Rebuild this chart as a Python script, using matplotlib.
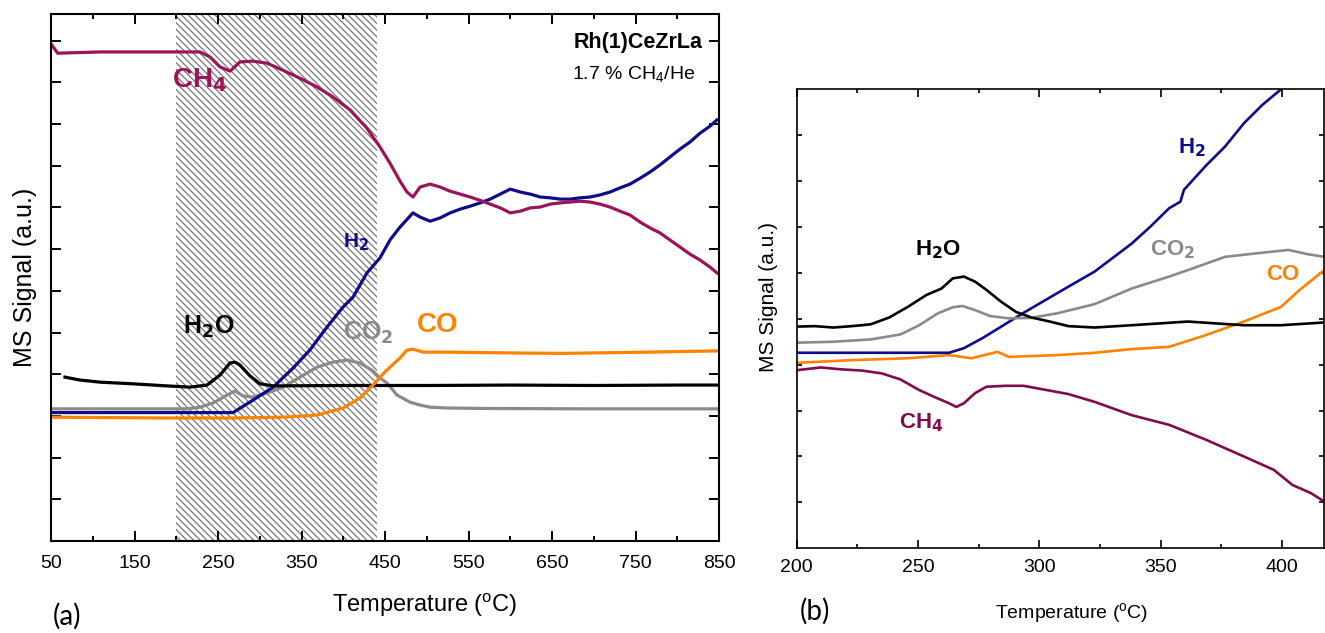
import matplotlib
matplotlib.use('Agg')
import matplotlib.pyplot as plt

plt.rcParams['font.family'] = ['Liberation Sans', 'DejaVu Sans']
plt.rcParams['mathtext.fontset'] = 'custom'
plt.rcParams['mathtext.rm'] = 'Liberation Sans'
plt.rcParams['mathtext.bf'] = 'Liberation Sans Narrow:bold'
plt.rcParams['hatch.linewidth'] = 0.9

# ---- panel (a): full ramp 50-850 C ----
t_ch4_a = [50.8, 58, 108.7, 168.6, 228.4, 240.4, 252.4, 264.4, 276.3, 291.9, 308.7, 327.8,
           348.2, 368.6, 387.7, 408.1, 428.4, 444, 456, 468, 476.3, 483.5, 492, 504, 516,
           528, 540, 552, 564, 576, 588, 600, 612, 624, 636, 648, 660, 672, 683.5, 695.5,
           707.5, 719.5, 731.5, 743.4, 755.4, 767.4, 779.3, 791.3, 803.3, 815.3, 827.2,
           839.2, 847.6]
ch4_a = [11.9, 11.70, 11.73, 11.73, 11.73, 11.61, 11.37, 11.27, 11.49, 11.51, 11.46, 11.29,
         11.10, 10.89, 10.65, 10.34, 9.90, 9.45, 9.06, 8.63, 8.37, 8.25, 8.49, 8.56, 8.49,
         8.39, 8.32, 8.25, 8.17, 8.08, 7.99, 7.87, 7.91, 7.99, 8.01, 8.08, 8.11, 8.13, 8.15,
         8.13, 8.08, 8.01, 7.91, 7.82, 7.65, 7.51, 7.39, 7.22, 7.05, 6.88, 6.74, 6.57, 6.43]

t_h2_a = [50, 268, 292, 316, 340, 360, 380.5, 399.7, 411.7, 428.4, 444, 456, 468, 483.5,
          492, 504, 516, 528, 540, 552, 564, 576, 588, 600, 612, 624, 636, 648, 660, 672,
          683.5, 695.5, 707.5, 719.5, 731.5, 743.4, 755.4, 767.4, 779.3, 791.3, 803.3,
          815.3, 827.2, 839.2, 847.6]
h2_a = [3.08, 3.08, 3.38, 3.69, 4.15, 4.58, 5.13, 5.61, 5.85, 6.43, 6.79, 7.22, 7.53, 7.87,
        7.77, 7.67, 7.75, 7.87, 7.96, 8.03, 8.11, 8.20, 8.32, 8.44, 8.37, 8.32, 8.25, 8.23,
        8.20, 8.20, 8.23, 8.25, 8.30, 8.37, 8.47, 8.56, 8.70, 8.85, 9.02, 9.21, 9.40, 9.57,
        9.78, 9.95, 10.10]

t_co2_a = [50, 213, 228.4, 244, 260.8, 270.4, 280, 292, 308.7, 327.8, 348.2, 368.6, 387.7,
           404.5, 420, 435.6, 443.8, 452.4, 464.4, 480, 492, 504, 524, 564, 683.5, 850]
co2_a = [3.17, 3.17, 3.21, 3.31, 3.50, 3.60, 3.48, 3.45, 3.55, 3.69, 3.93, 4.17, 4.29,
         4.34, 4.27, 4.08, 3.91, 3.79, 3.50, 3.33, 3.26, 3.21, 3.19, 3.18, 3.17, 3.17]

t_h2o_a = [66.8, 84.7, 108.7, 148.2, 189, 216.5, 236.8, 252.4, 264.4, 270.4, 276.3, 288.3,
           300.3, 316, 400, 500, 600, 700, 800, 850]
h2o_a = [3.93, 3.86, 3.81, 3.77, 3.72, 3.69, 3.74, 3.98, 4.27, 4.29, 4.22, 3.96,
         3.77, 3.72, 3.73, 3.73, 3.74, 3.73, 3.74, 3.74]

t_co_a = [50, 189, 268, 327.8, 368.6, 399.7, 420, 435.6, 446.4, 456, 468, 476.3, 483.5,
          495.5, 524, 603, 663, 763.8, 850]
co_a = [2.97, 2.95, 2.95, 2.97, 3.02, 3.19, 3.43, 3.74, 3.98, 4.17, 4.39, 4.58, 4.60,
        4.53, 4.53, 4.51, 4.50, 4.53, 4.56]

shade_a = (200, 441)

# ---- panel (b): zoom 200-420 C ----
t_ch4_b = [200, 210, 218.1, 227.3, 235.1, 242.7, 250.4, 256.6, 262.8, 265.8, 268.9, 273.5,
           278.2, 285.8, 293.5, 302.8, 312, 322.8, 338.1, 353.5, 368.9, 384.3, 396.6, 404.3,
           412, 417.4]
ch4_b = [3.88, 3.94, 3.90, 3.87, 3.81, 3.68, 3.45, 3.30, 3.16, 3.08, 3.16, 3.38,
         3.52, 3.54, 3.54, 3.45, 3.36, 3.19, 2.90, 2.69, 2.36, 2.00, 1.71, 1.38, 1.20, 1.02]

t_h2_b = [200, 262.8, 268.9, 276.6, 284.3, 293.5, 307.4, 322.8, 338.1, 345.8, 353.5, 358.1,
          359.6, 368.9, 376.5, 384.3, 391.9, 399.6]
h2_b = [4.26, 4.26, 4.36, 4.58, 4.83, 5.13, 5.56, 6.03, 6.64, 7.01, 7.41, 7.55,
        7.81, 8.35, 8.75, 9.26, 9.66, 10.0]

t_h2o_b = [200, 207.4, 215.1, 222.8, 230.5, 238.2, 245.8, 253.5, 259.7, 264.3, 268.9, 273.5,
           278.2, 284.3, 290.4, 296.6, 304.3, 312, 322.8, 338.1, 361.2, 384.3, 399.6, 417.4]
h2o_b = [4.83, 4.84, 4.81, 4.84, 4.88, 5.03, 5.26, 5.52, 5.66, 5.88, 5.92, 5.81,
         5.63, 5.37, 5.15, 5.03, 4.94, 4.84, 4.81, 4.86, 4.94, 4.86, 4.86, 4.92]

t_co2_b = [200, 215.1, 230.5, 242.8, 250.5, 258.2, 264.3, 268.2, 273.5, 279.7, 287.4, 296.6,
           307.4, 322.8, 338.1, 353.5, 361.2, 376.5, 391.9, 402.7, 410.4, 417.4]
co2_b = [4.48, 4.50, 4.55, 4.66, 4.86, 5.12, 5.25, 5.28, 5.19, 5.06, 5.01, 5.02,
         5.12, 5.32, 5.66, 5.92, 6.06, 6.35, 6.44, 6.50, 6.41, 6.35]

t_co_b = [200, 222.8, 245.8, 262.8, 272, 282.8, 287.4, 307.4, 322.8, 338.1, 353.5, 368.9,
          384.3, 399.6, 407.3, 417.4]
co_b = [4.04, 4.10, 4.14, 4.21, 4.14, 4.28, 4.17, 4.21, 4.26, 4.34, 4.39, 4.65,
        4.94, 5.26, 5.63, 6.06]

WINE_A = '#9c1457'
WINE_B = '#800c4c'
NAVY = '#0d0d8c'
ORANGE = '#ff8200'
GRAY = '#8a8a8a'

lab_font = ['Liberation Sans Narrow', 'Liberation Sans', 'DejaVu Sans']

fig = plt.figure(figsize=(13.25, 6.33), dpi=100)

# ---------------- (a) ----------------
ax1 = fig.add_axes([51 / 1325, 92 / 633, 668 / 1325, 527 / 633])
ax1.axvspan(shade_a[0], shade_a[1], facecolor='none', edgecolor='#777777',
            hatch='\\\\\\\\\\', linewidth=0, zorder=0)
lw = 2.3
ax1.plot(t_co2_a, co2_a, color=GRAY, lw=lw)
ax1.plot(t_h2_a, h2_a, color=NAVY, lw=lw)
ax1.plot(t_h2o_a, h2o_a, color='black', lw=lw)
ax1.plot(t_co_a, co_a, color=ORANGE, lw=lw)
ax1.plot(t_ch4_a, ch4_a, color=WINE_A, lw=lw)

ax1.set_xlim(50, 850)
ax1.set_ylim(0, 12.64)
ax1.set_xticks(range(50, 851, 100))
ax1.set_xticks(range(100, 851, 100), minor=True)
ax1.set_yticks(range(1, 13))
ax1.tick_params(which='both', direction='in', top=True, right=True, width=1.4,
                labelleft=False, labelsize=14, pad=10)
ax1.tick_params(which='major', length=7)
ax1.tick_params(which='minor', length=3.5)
for s in ax1.spines.values():
    s.set_linewidth(1.5)

ax1.text(194.9, 10.89, r'CH$_\mathbf{4}$', color=WINE_A, fontsize=20, fontweight='bold',
         family=lab_font)
ax1.text(399.7, 7.05, r'H$_\mathbf{2}$', color=NAVY, fontsize=15, fontweight='bold',
         family=lab_font)
ax1.text(208.3, 4.98, r'H$_\mathbf{2}$O', color='black', fontsize=18, fontweight='bold',
         family=lab_font)
ax1.text(400, 4.82, r'CO$_\mathbf{2}$', color=GRAY, fontsize=18, fontweight='bold',
         family=lab_font)
ax1.text(488, 5.02, 'CO', color=ORANGE, fontsize=20, fontweight='bold', family=lab_font)
ax1.text(0.976, 0.935, 'Rh(1)CeZrLa', transform=ax1.transAxes, ha='right',
         fontsize=15.5, fontweight='bold')
ax1.text(0.964, 0.875, r'1.7 % CH$_4$/He', transform=ax1.transAxes, ha='right',
         fontsize=14)

fig.text(425 / 1325, 1 - 605 / 633, r'Temperature ($^{\mathrm{o}}$C)', ha='center',
         va='center', fontsize=17)
fig.text(25 / 1325, 1 - 277 / 633, 'MS Signal (a.u.)', rotation=90, ha='center',
         va='center', fontsize=18)
fig.text(53 / 1325, 1 - 616 / 633, '(a)', ha='left', va='center', fontsize=20,
         family=['Lato', 'DejaVu Sans'])

# ---------------- (b) ----------------
ax2 = fig.add_axes([796.7 / 1325, 84.7 / 633, 527.5 / 1325, 459 / 633])
lw = 1.9
ax2.plot(t_ch4_b, ch4_b, color=WINE_B, lw=lw)
ax2.plot(t_co_b, co_b, color=ORANGE, lw=lw)
ax2.plot(t_h2_b, h2_b, color=NAVY, lw=lw)
ax2.plot(t_co2_b, co2_b, color=GRAY, lw=lw)
ax2.plot(t_h2o_b, h2o_b, color='black', lw=lw)

ax2.set_xlim(200, 417.4)
ax2.set_ylim(0, 10)
ax2.set_xticks(range(200, 401, 50))
ax2.set_xticks(range(225, 401, 50), minor=True)
ax2.set_yticks(range(1, 10))
ax2.tick_params(which='both', direction='in', top=True, right=True, width=1.2,
                labelleft=False, labelsize=14, pad=8)
ax2.tick_params(which='major', length=5.5)
ax2.tick_params(which='minor', length=3)
ax2.tick_params(axis='y', which='major', length=3.5)
for s in ax2.spines.values():
    s.set_linewidth(1.2)

ax2.text(357.2, 8.61, r'H$_\mathbf{2}$', color=NAVY, fontsize=16, fontweight='bold',
         family=lab_font)
ax2.text(248.8, 6.39, r'H$_\mathbf{2}$O', color='black', fontsize=16, fontweight='bold',
         family=lab_font)
ax2.text(345.6, 6.39, r'CO$_\mathbf{2}$', color=GRAY, fontsize=16, fontweight='bold',
         family=lab_font)
ax2.text(393.5, 5.85, 'CO', color=ORANGE, fontsize=16, fontweight='bold', family=lab_font)
ax2.text(242, 2.61, r'CH$_\mathbf{4}$', color=WINE_B, fontsize=16, fontweight='bold',
         family=lab_font)

fig.text(1072 / 1325, 1 - 614 / 633, r'Temperature ($^{\mathrm{o}}$C)', ha='center',
         va='center', fontsize=14)
fig.text(768 / 1325, 1 - 297 / 633, 'MS Signal (a.u.)', rotation=90, ha='center',
         va='center', fontsize=15)
fig.text(800 / 1325, 1 - 611 / 633, '(b)', ha='left', va='center', fontsize=20,
         family=['Lato', 'DejaVu Sans'])

fig.savefig('out.png', dpi=100)
